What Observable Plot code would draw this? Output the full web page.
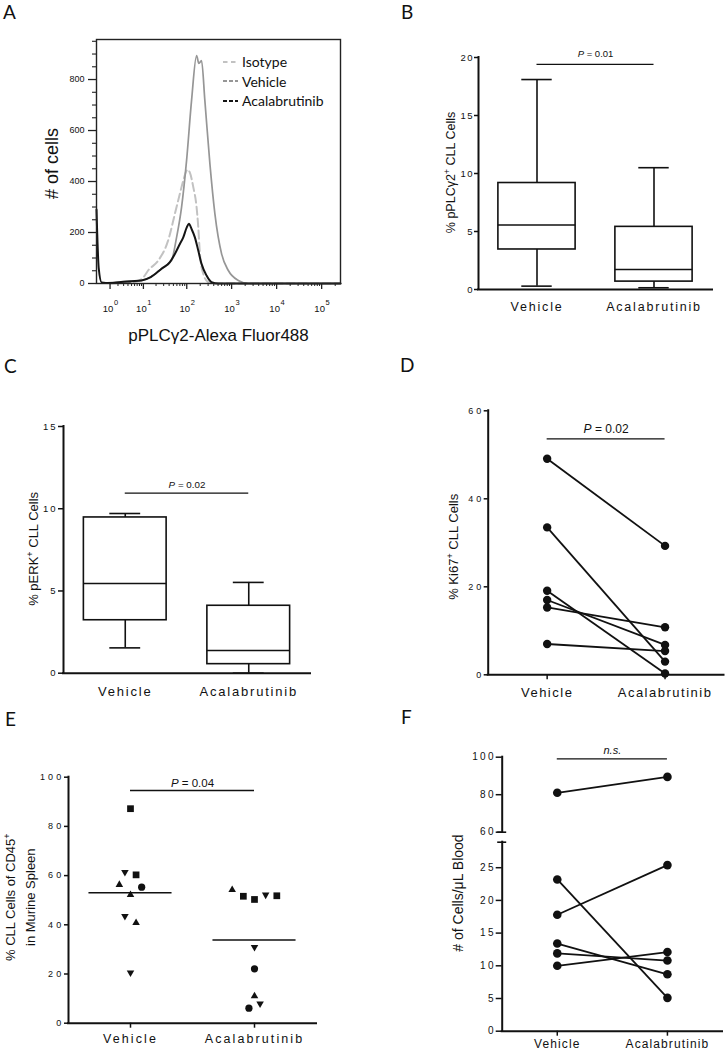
<!DOCTYPE html>
<html><head><meta charset="utf-8">
<script src="https://cdn.jsdelivr.net/npm/d3@7"></script>
<script src="https://cdn.jsdelivr.net/npm/@observablehq/plot@0.6"></script>
<style>
html,body{margin:0;padding:0;background:#fff;}
#fig{position:relative;width:725px;height:1050px;overflow:hidden;background:#fff;color:#111;font-family:"Liberation Sans",Arial,sans-serif;}
.panel{position:absolute;}
.letter{position:absolute;font-family:Lato,"Open Sans",sans-serif;font-size:19px;line-height:1;color:#111;}
.legend{position:absolute;left:223px;top:52px;font-family:Lato,"Open Sans",sans-serif;font-size:14px;color:#111;}
.legend div{display:flex;align-items:center;height:19.6px;white-space:nowrap;}
.legend svg{margin-right:4px;display:block;}
</style></head>
<body><div id="fig"></div>
<script>
// ---------------- DATA ----------------
const groups = ["Vehicle", "Acalabrutinib"];

// Panel A: flow histogram (fluorescence intensity, # of cells)
const histSeries = ["Isotype", "Vehicle", "Acalabrutinib"];
const isotypeIntensity = [1, 3, 6, 10, 13, 22.5, 38, 54, 70, 83.5, 104, 117, 140, 166, 181, 197, 234, 302, 418, 262144];
const isotypeCount     = [0, 3, 6, 24, 51, 90, 169, 273, 352, 404, 446, 436, 378, 299, 221, 116, 38, 5, 0, 0];
const vehicleIntensity = [0.5, 2.5, 5, 9, 15, 26.8, 45.4, 59, 76.4, 99, 128, 166, 186.5, 214, 254, 329, 425, 599, 845, 1408, 2349, 262144];
const vehicleCount     = [2, 6, 9, 12, 25, 58, 90, 181, 299, 482, 717, 894, 863, 874, 717, 469, 273, 116, 51, 12, 0, 0];
const acalaIntensity   = [0, 0.12, 0.3, 1, 2.5, 5, 9, 15, 26.8, 41.6, 54, 70, 83.5, 99, 111.5, 128, 152, 181, 214, 277, 358, 505, 262144];
const acalaCount       = [290, 60, 4, 2, 6, 9, 12, 25, 58, 84, 116, 155, 181, 218, 234, 214, 181, 129, 77, 31, 5, 0, 0];
const histYTicks = [0, 200, 400, 600, 800];
const histXTicks = [1, 10, 100, 1000, 10000, 100000];

// Panel B: % pPLCγ2+ CLL cells (box: min, Q1, median, Q3, max)
const pplcMin = [0.29, 0.15];
const pplcQ1 = [3.45, 0.68];
const pplcMedian = [5.56, 1.72];
const pplcQ3 = [9.18, 5.4];
const pplcMax = [18.1, 10.5];
const pplcTicks = [0, 5, 10, 15, 20];
const pplcP = "_P_ = 0.01";
const pplcBar = 19.4;

// Panel C: % pERK+ CLL cells
const perkMin = [1.54, 0];
const perkQ1 = [3.22, 0.55];
const perkMedian = [5.45, 1.38];
const perkQ3 = [9.47, 4.1];
const perkMax = [9.71, 5.52];
const perkTicks = [0, 5, 10, 15];
const perkP = "_P_ = 0.02";
const perkBar = 10.95;

// Panel D: % Ki67+ CLL cells (paired)
const ki67Vehicle = [49.1, 33.5, 19.1, 17.0, 15.3, 7.0];
const ki67Acala   = [29.3, 3.0, 0.3, 6.8, 10.8, 5.4];
const ki67Ticks = [0, 20, 40, 60];
const ki67P = "_P_ = 0.02";
const ki67Bar = 53.6;

// Panel E: % CLL cells of CD45+ in murine spleen
const spleenVehicle      = [87.2, 61.4, 60.3, 56.3, 55.3, 52.2, 43.5, 40.8, 20.5];
const spleenVehicleShape = ["square", "down", "square", "up", "circle", "up", "down", "up", "down"];
const spleenVehicleLane  = [0, -1, 1, -2, 2, 0, -1, 1, 0];
const spleenAcala        = [54.2, 51.6, 50.3, 52.2, 51.8, 30.9, 22.1, 11.0, 6.1, 7.9];
const spleenAcalaShape   = ["up", "square", "square", "down", "square", "down", "circle", "up", "circle", "down"];
const spleenAcalaLane    = [-4, -2, 0, 2, 4, 0, 0, 0, -1, 1];
const spleenTicks = [0, 20, 40, 60, 80, 100];
const spleenP = "_P_ = 0.04";
const spleenBar = 94.6;

// Panel F: # of cells / µL blood (paired, broken axis)
const bloodVehicle = [81.0, 17.8, 23.2, 13.4, 11.9, 10.0];
const bloodAcala   = [89.5, 25.4, 5.1, 8.7, 10.8, 12.1];
const bloodTicksLow = [0, 5, 10, 15, 20, 25];
const bloodTicksHigh = [60, 80, 100];
const bloodBreak = [28.9, 60];
const bloodP = "_n.s._";
const bloodBar = 99.1;

// ---------------- HELPERS ----------------
const FONT = "'Liberation Sans', Arial, Helvetica, sans-serif";
const baseStyle = {background: "transparent", fontFamily: FONT, overflow: "visible", color: "#111"};
const fig = document.getElementById("fig");
const SVGNS = "http://www.w3.org/2000/svg";

function richText(svg) {
  svg.querySelectorAll("text").forEach(t => {
    if (t.querySelector("tspan")) return;
    const s = t.textContent;
    if (!/[_^]/.test(s)) return;
    const parts = s.split(/(_[^_]+_|\^.)/).filter(p => p);
    t.textContent = "";
    for (const p of parts) {
      const ts = document.createElementNS(SVGNS, "tspan");
      if (p[0] === "_") { ts.textContent = p.slice(1, -1); ts.setAttribute("font-style", "italic"); }
      else if (p[0] === "^") { ts.textContent = p.slice(1); ts.setAttribute("baseline-shift", "super"); ts.setAttribute("font-size", "70%"); }
      else ts.textContent = p;
      t.appendChild(ts);
    }
  });
}
function place(svg, left, top, spacing) {
  const div = document.createElement("div");
  div.className = "panel";
  div.style.left = left + "px";
  div.style.top = top + "px";
  div.appendChild(svg);
  fig.appendChild(div);
  if (spacing) for (const [label, v] of Object.entries(spacing))
    svg.querySelectorAll(`g[aria-label="${label}"]`).forEach(g => g.style.letterSpacing = v + "px");
  richText(svg);
}
function letter(ch, left, top) {
  const d = document.createElement("div");
  d.className = "letter"; d.textContent = ch;
  d.style.left = left + "px"; d.style.top = top + "px";
  fig.appendChild(d);
}
function boxMarks(mins, q1s, meds, q3s, maxs, half, cap) {
  const rows = groups.map((g, i) => ({i, min: mins[i], q1: q1s[i], med: meds[i], q3: q3s[i], max: maxs[i]}));
  const s = {stroke: "#111", strokeWidth: 1.6};
  return [
    Plot.ruleX(rows, {x: "i", y1: "q3", y2: "max", ...s}),
    Plot.ruleX(rows, {x: "i", y1: "min", y2: "q1", ...s}),
    Plot.ruleY(rows, {y: "max", x1: d => d.i - cap, x2: d => d.i + cap, ...s}),
    Plot.ruleY(rows, {y: "min", x1: d => d.i - cap, x2: d => d.i + cap, ...s}),
    Plot.rect(rows, {x1: d => d.i - half, x2: d => d.i + half, y1: "q1", y2: "q3", fill: "white", ...s}),
    Plot.ruleY(rows, {y: "med", x1: d => d.i - half, x2: d => d.i + half, ...s})
  ];
}
const lineStyle = {stroke: "#111", strokeWidth: 2, strokeLinecap: "square"};
function frameLines(yTop, yBottom = 0, withX = true) {
  return [
    Plot.ruleX([-0.5], {y1: yBottom, y2: yTop, ...lineStyle}),
    withX ? Plot.ruleY([0], {x1: -0.5, x2: 1.5, ...lineStyle}) : null
  ];
}
function yAxis(ticks, o) { return Plot.axisY({ticks, label: null, stroke: "#111", strokeWidth: 1.5, ...o}); }
function xAxis(o) { return Plot.axisX({ticks: [0, 1], tickFormat: i => groups[i], label: null, stroke: "#111", strokeWidth: 1.5, ...o}); }
function pMarks(label, level, o) {
  return [
    Plot.ruleY([level], {x1: 0, x2: 1, stroke: "#111", strokeWidth: 1.3}),
    Plot.text([label], {x: 0.5, y: () => level, text: d => d, lineAnchor: "middle", textAnchor: "middle", ariaLabel: "ptext", fill: "#111", ...o})
  ];
}
function yTitle(label, o) {
  return Plot.text([label], {frameAnchor: "left", text: d => d, rotate: -90, textAnchor: "middle", lineAnchor: "middle", ariaLabel: "ytitle", fill: "#111", ...o});
}
function pairedMarks(before, after, keep, r) {
  const idx = d3.range(before.length).filter(i => keep(before[i]) && keep(after[i]));
  return [
    Plot.link(idx, {x1: () => 0, x2: () => 1, y1: i => before[i], y2: i => after[i], stroke: "#111", strokeWidth: 1.8}),
    Plot.dot(idx, {x: () => 0, y: i => before[i], r, fill: "#111"}),
    Plot.dot(idx, {x: () => 1, y: i => after[i], r, fill: "#111"})
  ];
}

// ---------------- PANEL A ----------------
const toRows = (xs, ys) => xs.map((x, i) => ({x, y: ys[i]}));
const minorX = [];
for (let k = 0; k <= 5; k++) for (let m = 2; m <= 9; m++) { const v = m * 10 ** k; if (v <= 262144) minorX.push(v); }
const minorY = d3.range(50, 951, 50).filter(v => v % 200 !== 0);

const svgA = Plot.plot({
  width: 360, height: 345, marginLeft: 96, marginRight: 20, marginTop: 39, marginBottom: 62,
  x: {type: "symlog", domain: [0, 262144], axis: null},
  y: {domain: [0, 957], axis: null},
  style: baseStyle,
  marks: [
    Plot.line(toRows(isotypeIntensity, isotypeCount), {x: "x", y: "y", stroke: "#c2c2c2", strokeWidth: 2, strokeDasharray: "8,4", curve: "monotone-x"}),
    Plot.line(toRows(vehicleIntensity, vehicleCount), {x: "x", y: "y", stroke: "#969696", strokeWidth: 1.7, curve: "monotone-x"}),
    Plot.line(toRows(acalaIntensity, acalaCount), {x: "x", y: "y", stroke: "#141414", strokeWidth: 2, curve: "monotone-x"}),
    Plot.frame({stroke: "#222", strokeWidth: 1.4}),
    Plot.axisY({ticks: histYTicks, label: null, tickSize: 8, tickPadding: 4, fontSize: 9, stroke: "#222", strokeWidth: 1.3}),
    Plot.axisY({ticks: minorY, label: null, tickSize: 4, tickFormat: () => "", stroke: "#222", strokeWidth: 1.1}),
    Plot.axisX({ticks: histXTicks, label: null, tickSize: 6, tickFormat: () => "", stroke: "#222", strokeWidth: 1.3}),
    Plot.axisX({ticks: minorX, label: null, tickSize: 3, tickFormat: () => "", stroke: "#222", strokeWidth: 1}),
    Plot.text(histXTicks, {x: d => d, text: () => "10", frameAnchor: "bottom", lineAnchor: "middle", dx: -2, dy: 25, fontSize: 9.5, fill: "#111"}),
    Plot.text(histXTicks, {x: d => d, text: d => String(Math.round(Math.log10(d))), frameAnchor: "bottom", lineAnchor: "middle", dx: 6, dy: 19, fontSize: 7.5, fill: "#111"}),
    Plot.text(["# of cells"], {frameAnchor: "left", text: d => d, rotate: -90, textAnchor: "middle", lineAnchor: "middle", dx: -44, dy: 2, fontSize: 18, fill: "#111"}),
    Plot.text(["pPLCγ2-Alexa Fluor488"], {frameAnchor: "bottom", text: d => d, textAnchor: "middle", lineAnchor: "middle", dy: 52, fontSize: 17, fill: "#111"})
  ]
});
place(svgA, 0, 0);

// legend for A
const legend = document.createElement("div");
legend.className = "legend";
const swatch = [
  {stroke: "#c2c2c2", dash: "4.5,3.5", w: 1.8},
  {stroke: "#969696", dash: "4,2", w: 1.8},
  {stroke: "#141414", dash: "4,2", w: 2.2}
];
histSeries.forEach((name, i) => {
  const row = document.createElement("div");
  row.innerHTML = `<svg width="15" height="10"><line x1="0" x2="15" y1="5" y2="5" stroke="${swatch[i].stroke}" stroke-width="${swatch[i].w}" stroke-dasharray="${swatch[i].dash}"/></svg><span>${name}</span>`;
  legend.appendChild(row);
});
fig.appendChild(legend);

// ---------------- PANEL B ----------------
const svgB = Plot.plot({
  width: 365, height: 320, marginLeft: 118, marginRight: 13, marginTop: 57, marginBottom: 31,
  x: {domain: [-0.5, 1.5], axis: null},
  y: {domain: [0, 20], axis: null},
  style: baseStyle,
  marks: [
    ...boxMarks(pplcMin, pplcQ1, pplcMedian, pplcQ3, pplcMax, 0.33, 0.13),
    ...frameLines(20),
    yAxis(pplcTicks, {tickSize: 4, tickPadding: 0.5, fontSize: 9.5}),
    xAxis({tickSize: 0, tickPadding: 12.5, fontSize: 12.5}),
    ...pMarks(pplcP, pplcBar, {fontSize: 9.5, dy: -11}),
    yTitle("% pPLCγ2^+ CLL Cells", {dx: -28, dy: -1, fontSize: 12.5})
  ]
});
place(svgB, 360, 0, {"y-axis tick label": 1.5, "x-axis tick label": 1.8, ptext: 1.8, ytitle: 1.4});

// ---------------- PANEL C ----------------
const svgC = Plot.plot({
  width: 360, height: 360, marginLeft: 63, marginRight: 50, marginTop: 81, marginBottom: 32.3,
  x: {domain: [-0.5, 1.5], axis: null},
  y: {domain: [0, 15], axis: null},
  style: baseStyle,
  marks: [
    ...boxMarks(perkMin, perkQ1, perkMedian, perkQ3, perkMax, 0.335, 0.125),
    ...frameLines(15),
    yAxis(perkTicks, {tickSize: 5, tickPadding: 1, fontSize: 9.5}),
    xAxis({tickSize: 0, tickPadding: 13.3, fontSize: 13}),
    ...pMarks(perkP, perkBar, {fontSize: 9.8, dy: -8.7}),
    yTitle("% pERK^+ CLL Cells", {dx: -30, dy: -1, fontSize: 13})
  ]
});
place(svgC, 0, 345, {"y-axis tick label": 2, "x-axis tick label": 1.8, ptext: 1.9, ytitle: 1.9});

// ---------------- PANEL D ----------------
const svgD = Plot.plot({
  width: 365, height: 360, marginLeft: 127.7, marginRight: 1.5, marginTop: 65.3, marginBottom: 30.7,
  x: {domain: [-0.5, 1.5], axis: null},
  y: {domain: [0, 60], axis: null},
  style: baseStyle,
  marks: [
    ...frameLines(60),
    yAxis(ki67Ticks, {tickSize: 4, tickPadding: 0, fontSize: 9}),
    xAxis({tickSize: 5, tickPadding: 7.7, fontSize: 13}),
    ...pairedMarks(ki67Vehicle, ki67Acala, () => true, 4.2),
    ...pMarks(ki67P, ki67Bar, {fontSize: 12, dy: -10.3}),
    yTitle("% Ki67^+ CLL Cells", {dx: -34.7, dy: 4, fontSize: 13})
  ]
});
place(svgD, 360, 345, {"y-axis tick label": 3, "x-axis tick label": 1.5, ptext: 2.1, ytitle: 2.07});

// ---------------- PANEL E ----------------
const spleenRows = [
  ...spleenVehicle.map((v, i) => ({g: 0, v, shape: spleenVehicleShape[i], lane: spleenVehicleLane[i]})),
  ...spleenAcala.map((v, i) => ({g: 1, v, shape: spleenAcalaShape[i], lane: spleenAcalaLane[i]}))
];
const spleenMeans = [d3.mean(spleenVehicle), d3.mean(spleenAcala)];
const laneX = d => d.g + d.lane * 0.045;
const svgE = Plot.plot({
  width: 360, height: 345, marginLeft: 68, marginRight: 44, marginTop: 71.7, marginBottom: 27.3,
  x: {domain: [-0.5, 1.5], axis: null},
  y: {domain: [0, 100], axis: null},
  style: baseStyle,
  marks: [
    ...frameLines(100),
    yAxis(spleenTicks, {tickSize: 4, tickPadding: 0, fontSize: 9}),
    xAxis({tickSize: 5, tickPadding: 5.5, fontSize: 12.5}),
    Plot.ruleY([0, 1], {y: i => spleenMeans[i], x1: i => i - 0.335, x2: i => i + 0.335, stroke: "#111", strokeWidth: 1.5}),
    Plot.dot(spleenRows.filter(d => d.shape === "square"), {x: laneX, y: "v", symbol: "square", r: 3.8, fill: "#111"}),
    Plot.dot(spleenRows.filter(d => d.shape === "circle"), {x: laneX, y: "v", symbol: "circle", r: 3.6, fill: "#111"}),
    Plot.dot(spleenRows.filter(d => d.shape === "up" || d.shape === "down"), {x: laneX, y: "v", symbol: "triangle", r: 2.8, rotate: d => d.shape === "down" ? 180 : 0, fill: "#111"}),
    ...pMarks(spleenP, spleenBar, {fontSize: 11.5, dy: -7.5}),
    yTitle("% CLL Cells of CD45^+", {dx: -58, dy: -3, fontSize: 13}),
    yTitle("in Murine Spleen", {dx: -38, dy: -3, fontSize: 13})
  ]
});
place(svgE, 0, 705, {"y-axis tick label": 3.2, "x-axis tick label": 2.1, ptext: 1.8, ytitle: 2.2});

// ---------------- PANEL F (broken y axis: two stacked segments) ----------------
const fMarginLeft = 141.7, fMarginRight = 3;
const isHigh = v => v >= bloodBreak[1];
const isLow = v => v <= bloodBreak[0];
const breakMark = v => Plot.ruleY([v], {x1: -0.5, x2: -0.5, insetLeft: -4.5, insetRight: -4.5, stroke: "#111", strokeWidth: 1.6});
const fSpacing = {"y-axis tick label": 2.3, "x-axis tick label": 1.1, ptext: 1.3, ytitle: 2};

const svgFHigh = Plot.plot({
  width: 365, height: 140, marginLeft: fMarginLeft, marginRight: fMarginRight, marginTop: 51.7, marginBottom: 13.3,
  x: {domain: [-0.5, 1.5], axis: null},
  y: {domain: [bloodBreak[1], 100], axis: null},
  style: baseStyle,
  marks: [
    ...frameLines(100, bloodBreak[1], false),
    breakMark(bloodBreak[1]),
    yAxis(bloodTicksHigh, {tickSize: 6, tickPadding: 0.4, fontSize: 10}),
    ...pairedMarks(bloodVehicle, bloodAcala, isHigh, 4.3),
    ...pMarks(bloodP, bloodBar, {fontSize: 11, dy: -8.3})
  ]
});
place(svgFHigh, 360, 705, fSpacing);

const svgFLow = Plot.plot({
  width: 365, height: 215, marginLeft: fMarginLeft, marginRight: fMarginRight, marginTop: 6.7, marginBottom: 19.3,
  x: {domain: [-0.5, 1.5], axis: null},
  y: {domain: [0, bloodBreak[0]], axis: null},
  style: baseStyle,
  marks: [
    ...frameLines(bloodBreak[0]),
    breakMark(bloodBreak[0]),
    yAxis(bloodTicksLow, {tickSize: 6, tickPadding: 0.4, fontSize: 10}),
    xAxis({tickSize: 5, tickPadding: 3, fontSize: 12}),
    ...pairedMarks(bloodVehicle, bloodAcala, isLow, 4.3),
    yTitle("# of Cells/μL Blood", {dx: -44, dy: -43.7, fontSize: 14})
  ]
});
place(svgFLow, 360, 835, fSpacing);

// ---------------- PANEL LETTERS ----------------
letter("A", 3, 2);
letter("B", 401, 2);
letter("C", 4, 356);
letter("D", 400, 355);
letter("E", 5, 709);
letter("F", 401, 707);
</script></body></html>
